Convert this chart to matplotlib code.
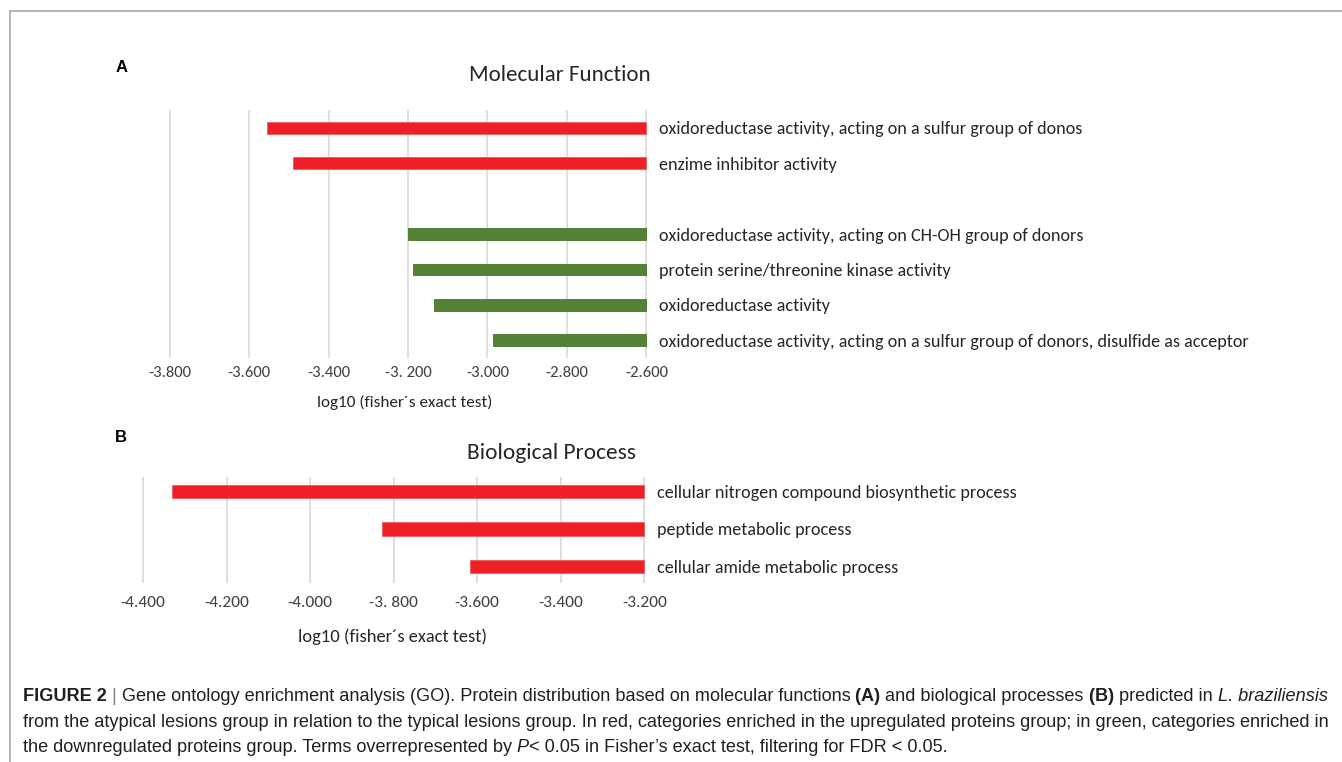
import matplotlib
matplotlib.use("Agg")
import matplotlib.pyplot as plt
from matplotlib import font_manager
from matplotlib.lines import Line2D

# ---------------- data ----------------
mf_terms = [
    "oxidoreductase activity, acting on a sulfur group of donos",
    "enzime inhibitor activity",
    "",
    "oxidoreductase activity, acting on CH-OH group of donors",
    "protein serine/threonine kinase activity",
    "oxidoreductase activity",
    "oxidoreductase activity, acting on a sulfur group of donors, disulfide as acceptor",
]
mf_values = [-3.556, -3.490, None, -3.200, -3.187, -3.135, -2.986]
mf_groups = ["up", "up", None, "down", "down", "down", "down"]
mf_xticks = [-3.8, -3.6, -3.4, -3.2, -3.0, -2.8, -2.6]
mf_xticklabels = ["-3.800", "-3.600", "-3.400", "-3. 200", "-3.000", "-2.800", "-2.600"]

bp_terms = [
    "cellular nitrogen compound biosynthetic process",
    "peptide metabolic process",
    "cellular amide metabolic process",
]
bp_values = [-4.330, -3.827, -3.618]
bp_groups = ["up", "up", "up"]
bp_xticks = [-4.4, -4.2, -4.0, -3.8, -3.6, -3.4, -3.2]
bp_xticklabels = ["-4.400", "-4.200", "-4.000", "-3. 800", "-3.600", "-3.400", "-3.200"]

axis_title = "log10 (fisher\u00b4s exact test)"
mf_title = "Molecular Function"
bp_title = "Biological Process"

caption_lines = [
    [("FIGURE 2", "bold", "normal", "#231f20"),
     (" |", "light", "normal", "#808080"),
     (" Gene ontology enrichment analysis (GO). Protein distribution based on molecular functions", "normal", "normal", "#231f20"),
     (" (A)", "bold", "normal", "#231f20"),
     (" and biological processes", "normal", "normal", "#231f20"),
     (" (B)", "bold", "normal", "#231f20"),
     (" predicted in", "normal", "normal", "#231f20"),
     (" L. braziliensis", "normal", "italic", "#231f20")],
    [("from the atypical lesions group in relation to the typical lesions group. In red, categories enriched in the upregulated proteins group; in green, categories enriched in", "normal", "normal", "#231f20")],
    [("the downregulated proteins group. Terms overrepresented by", "normal", "normal", "#231f20"),
     (" P", "normal", "italic", "#231f20"),
     ("< 0.05 in Fisher\u2019s exact test, filtering for FDR < 0.05.", "normal", "normal", "#231f20")],
]

# ---------------- style ----------------
W, H, DPI = 1342, 762, 100
installed = {f.name for f in font_manager.fontManager.ttflist}


def pick(*names):
    for n in names:
        if n in installed:
            return n
    return "DejaVu Sans"


CHART_FONT = pick("Carlito", "Lato", "Open Sans")
CAP_FONT = pick("Liberation Sans", "Roboto")
FACE = {"up": "#ee1f26", "down": "#548235"}
EDGE = {"up": "#f15a5f", "down": "#46752b"}
TXT = "#262626"

fig = plt.figure(figsize=(W / DPI, H / DPI), dpi=DPI)
fig.patch.set_facecolor("white")


def px_axes(l, t, r, b):
    return fig.add_axes([l / W, 1 - b / H, (r - l) / W, (b - t) / H])


def ftext(x, y, s, **kw):
    return fig.text(x / W, 1 - y / H, s, **kw)


def draw_panel(ax, terms, values, groups, xticks, xticklabels, ylim, bar_h,
               tick_fs, tick_pad, lab_fs):
    base = xticks[-1]
    ys = list(range(len(terms)))
    for y, v, g in zip(ys, values, groups):
        if v is None:
            continue
        ax.barh(y, base - v, left=v, height=bar_h, color=FACE[g],
                edgecolor=EDGE[g], linewidth=0.6, zorder=3)
    ax.set_xlim(xticks[0] - 0.004, xticks[-1] + 0.004)
    ax.set_ylim(*ylim)
    ax.set_xticks(xticks)
    ax.set_xticklabels(xticklabels, fontfamily=CHART_FONT, fontsize=tick_fs, color="#404040")
    ax.grid(axis="x", color="#dcdcdc", linewidth=1.3, zorder=0)
    ax.set_axisbelow(True)
    for s in ax.spines.values():
        s.set_visible(False)
    ax.tick_params(axis="x", length=0, pad=tick_pad)
    ax.yaxis.tick_right()
    ax.set_yticks(ys)
    ax.set_yticklabels(terms, fontfamily=CHART_FONT, fontsize=lab_fs, color=TXT)
    ax.tick_params(axis="y", length=0, pad=8)
    ax.set_facecolor("none")


# Panel A
axA = px_axes(168, 110, 648, 358)
draw_panel(axA, mf_terms, mf_values, mf_groups, mf_xticks, mf_xticklabels,
           ylim=(6.5, -0.5), bar_h=0.33, tick_fs=12, tick_pad=5.5, lab_fs=13.1)
# Panel B
axB = px_axes(141.3, 477, 646, 583)
draw_panel(axB, bp_terms, bp_values, bp_groups, bp_xticks, bp_xticklabels,
           ylim=(2.448, -0.394), bar_h=0.357, tick_fs=12.5, tick_pad=9.5, lab_fs=13.1)

# titles and axis titles
ftext(560, 75, mf_title, ha="center", va="center", fontfamily=CHART_FONT, fontsize=16.6, color=TXT)
ftext(551, 453, bp_title, ha="center", va="center", fontfamily=CHART_FONT, fontsize=16.8, color=TXT)
ftext(405, 402, axis_title, ha="center", va="center", fontfamily=CHART_FONT, fontsize=12.3, color=TXT)
ftext(393, 637, axis_title, ha="center", va="center", fontfamily=CHART_FONT, fontsize=13.3, color=TXT)

# panel letters
ftext(122, 68, "A", ha="center", va="center", fontfamily="Liberation Sans", fontweight="bold", fontsize=12, color="#000000")
ftext(121, 437, "B", ha="center", va="center", fontfamily="Liberation Sans", fontweight="bold", fontsize=12, color="#000000")

# frame lines
fig.add_artist(Line2D([10 / W, 1.0], [1 - 11 / H, 1 - 11 / H], transform=fig.transFigure, color="#a8a8a8", linewidth=1.2))
fig.add_artist(Line2D([10 / W, 10 / W], [1 - 11 / H, 0.0], transform=fig.transFigure, color="#a8a8a8", linewidth=1.2))

# caption (pieces laid out sequentially)
renderer = fig.canvas.get_renderer()
probe = fig.text(0, 0, caption_lines[1][0][0], fontfamily=CAP_FONT, fontsize=11)
probe_w = probe.get_window_extent(renderer).width
probe.remove()
cap_fs = 11 * (1307.0 / probe_w)
baselines = [701, 727, 752]
for line, yb in zip(caption_lines, baselines):
    x = 23.0
    for s, wgt, sty, col in line:
        t = ftext(x, yb, s, ha="left", va="baseline", fontfamily=CAP_FONT,
                  fontweight=wgt, fontstyle=sty, fontsize=cap_fs, color=col)
        x += t.get_window_extent(renderer).width

fig.savefig("out.png", dpi=DPI, facecolor="white")
